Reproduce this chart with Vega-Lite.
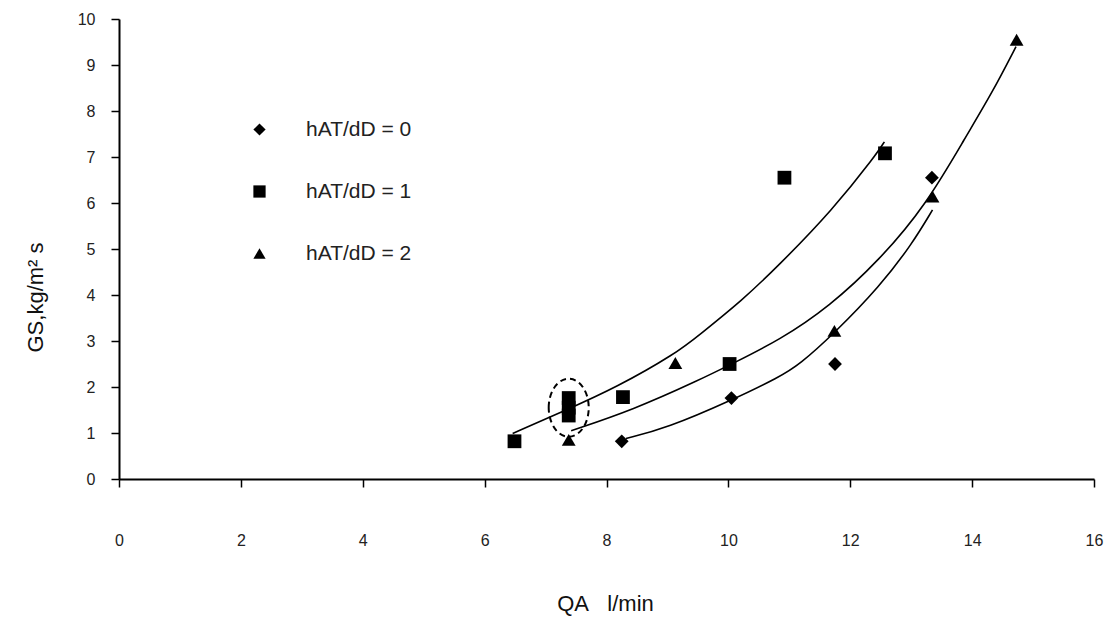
{
  "$schema": "https://vega.github.io/schema/vega-lite/v6.json",
  "width": 975,
  "height": 460,
  "autosize": "none",
  "padding": {"left": 119, "top": 19, "right": 25, "bottom": 138},
  "background": "white",
  "config": {
    "view": {"stroke": null},
    "font": "Liberation Sans",
    "axis": {
      "grid": false,
      "domainColor": "black",
      "domainWidth": 2,
      "tickColor": "black",
      "tickWidth": 1.5,
      "tickSize": 8,
      "labelFlush": false,
      "labelFont": "Liberation Sans",
      "labelFontSize": 16,
      "labelColor": "#222",
      "titleFont": "Liberation Sans",
      "titleFontSize": 22,
      "titleFontWeight": "normal",
      "titleColor": "#111"
    }
  },
  "datasets": {
    "pts": [
      {"x": 8.25, "y": 0.82, "series": "0"},
      {"x": 10.05, "y": 1.76, "series": "0"},
      {"x": 11.75, "y": 2.5, "series": "0"},
      {"x": 13.34, "y": 6.55, "series": "0"},
      {"x": 6.49, "y": 0.82, "series": "1"},
      {"x": 7.38, "y": 1.38, "series": "1"},
      {"x": 7.38, "y": 1.55, "series": "1"},
      {"x": 7.38, "y": 1.76, "series": "1"},
      {"x": 8.27, "y": 1.78, "series": "1"},
      {"x": 10.02, "y": 2.5, "series": "1"},
      {"x": 10.92, "y": 6.55, "series": "1"},
      {"x": 12.57, "y": 7.08, "series": "1"},
      {"x": 7.38, "y": 0.85, "series": "2"},
      {"x": 9.13, "y": 2.52, "series": "2"},
      {"x": 11.74, "y": 3.22, "series": "2"},
      {"x": 13.35, "y": 6.14, "series": "2"},
      {"x": 14.73, "y": 9.55, "series": "2"}
    ],
    "trend": [
      {"x": 8.32, "y": 0.88, "series": "0"},
      {"x": 8.98, "y": 1.1, "series": "0"},
      {"x": 10.07, "y": 1.72, "series": "0"},
      {"x": 10.84, "y": 2.22, "series": "0"},
      {"x": 11.16, "y": 2.48, "series": "0"},
      {"x": 11.74, "y": 3.17, "series": "0"},
      {"x": 12.48, "y": 4.18, "series": "0"},
      {"x": 13.02, "y": 5.12, "series": "0"},
      {"x": 13.35, "y": 5.85, "series": "0"},
      {"x": 6.46, "y": 0.99, "series": "1"},
      {"x": 7.34, "y": 1.5, "series": "1"},
      {"x": 8.16, "y": 1.99, "series": "1"},
      {"x": 9.14, "y": 2.73, "series": "1"},
      {"x": 9.52, "y": 3.13, "series": "1"},
      {"x": 10.23, "y": 3.89, "series": "1"},
      {"x": 10.81, "y": 4.62, "series": "1"},
      {"x": 11.71, "y": 5.85, "series": "1"},
      {"x": 12.42, "y": 7.04, "series": "1"},
      {"x": 12.56, "y": 7.33, "series": "1"},
      {"x": 7.42, "y": 1.05, "series": "2"},
      {"x": 8.43, "y": 1.5, "series": "2"},
      {"x": 9.52, "y": 2.15, "series": "2"},
      {"x": 10.07, "y": 2.51, "series": "2"},
      {"x": 10.84, "y": 3.02, "series": "2"},
      {"x": 11.66, "y": 3.75, "series": "2"},
      {"x": 12.48, "y": 4.76, "series": "2"},
      {"x": 13.24, "y": 5.95, "series": "2"},
      {"x": 13.9, "y": 7.45, "series": "2"},
      {"x": 14.33, "y": 8.4, "series": "2"},
      {"x": 14.72, "y": 9.4, "series": "2"}
    ],
    "mark": [{"x": 7.38, "y": 1.55}]
  },
  "layer": [
    {
      "data": {"name": "trend"},
      "mark": {"type": "line", "color": "black", "strokeWidth": 1.6, "interpolate": "basis"},
      "encoding": {
        "x": {"field": "x", "type": "quantitative"},
        "y": {"field": "y", "type": "quantitative"},
        "detail": {"field": "series", "type": "nominal"}
      }
    },
    {
      "data": {"name": "pts"},
      "mark": {"type": "point", "filled": true, "opacity": 1, "color": "black", "size": 190},
      "encoding": {
        "x": {
          "field": "x", "type": "quantitative",
          "scale": {"domain": [0, 16], "nice": false, "zero": false},
          "axis": {
            "values": [0, 2, 4, 6, 8, 10, 12, 14, 16],
            "format": "d",
            "labelPadding": 45,
            "title": "QA\u00a0\u00a0 l/min",
            "titleX": 486,
            "titleY": 124,
            "titleBaseline": "middle"
          }
        },
        "y": {
          "field": "y", "type": "quantitative",
          "scale": {"domain": [0, 10], "nice": false},
          "axis": {
            "values": [0, 1, 2, 3, 4, 5, 6, 7, 8, 9, 10],
            "format": "d",
            "labelPadding": 16,
            "title": "GS,kg/m² s",
            "titleX": -84,
            "titleY": 278,
            "titleAngle": -90,
            "titleAlign": "center",
            "titleBaseline": "middle"
          }
        },
        "shape": {
          "field": "series", "type": "nominal",
          "scale": {"domain": ["0", "1", "2"], "range": ["diamond", "square", "triangle-up"]},
          "legend": {
            "title": null,
            "orient": "none",
            "legendX": 130,
            "legendY": 100,
            "symbolFillColor": "black",
            "symbolStrokeColor": "black",
            "symbolSize": 150,
            "labelFont": "Liberation Sans",
            "labelFontSize": 21,
            "labelColor": "#222",
            "labelOffset": 36,
            "rowPadding": 40,
            "labelExpr": "'hAT/dD = ' + datum.label"
          }
        }
      }
    },
    {
      "data": {"name": "mark"},
      "mark": {
        "type": "point",
        "shape": "M -0.69 0 A 0.69 1 0 1 1 0.69 0 A 0.69 1 0 1 1 -0.69 0 Z",
        "size": 3364,
        "stroke": "black",
        "strokeWidth": 2,
        "strokeDash": [6, 4],
        "filled": false,
        "opacity": 1
      },
      "encoding": {
        "x": {"field": "x", "type": "quantitative"},
        "y": {"field": "y", "type": "quantitative"}
      }
    }
  ]
}
